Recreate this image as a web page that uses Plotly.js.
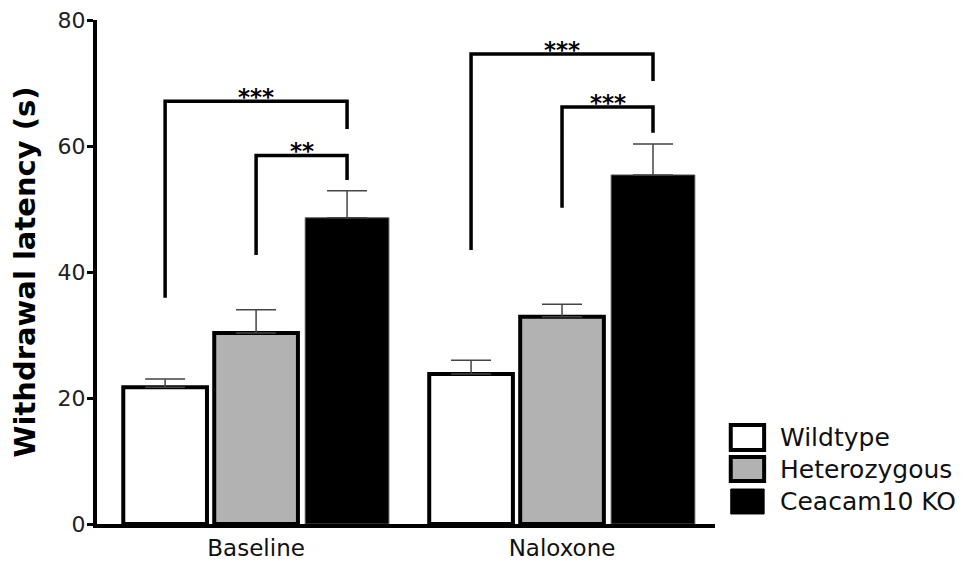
<!DOCTYPE html>
<html>
<head>
<meta charset="utf-8">
<script src="https://cdn.plot.ly/plotly-3.0.1.min.js"></script>
<style>html,body{margin:0;padding:0;background:#fff;}#chart{width:963px;height:562px;}</style>
</head>
<body>
<div id="chart"></div>
<script>
// ---- data ----
const categories = ["Baseline", "Naloxone"];
const seriesNames = ["Wildtype", "Heterozygous", "Ceacam10 KO"];
const wildtypeMean = [21.7, 23.8];
const wildtypeErr = [1.3, 2.2];
const heteroMean = [30.3, 32.9];
const heteroErr = [3.7, 2.0];
const koMean = [48.6, 55.4];
const koErr = [4.3, 4.9];
const yTicks = [0, 20, 40, 60, 80];

// significance brackets
const bracketCategory = [0, 0, 1, 1];
const bracketFromSeries = [0, 1, 0, 1];
const bracketToSeries = [2, 2, 2, 2];
const bracketTop = [67.1, 58.5, 74.6, 66.2];
const bracketLeftEnd = [35.9, 42.7, 43.5, 50.2];
const bracketRightEnd = [62.7, 54.6, 70.3, 62.1];
const bracketLabel = ["***", "**", "***", "***"];

// ---- styles ----
const FONT = "DejaVu Sans";
const fills = ["#ffffff", "#b2b2b2", "#000000"];
const edges = ["#000000", "#000000", "#555555"];
const edgeW = [4, 4, 1];
const means = [wildtypeMean, heteroMean, koMean];
const errs = [wildtypeErr, heteroErr, koErr];

const bargap = 0.108;
const traces = seriesNames.map((name, i) => ({
  type: "bar",
  name: name,
  x: categories,
  y: means[i],
  marker: {color: fills[i], line: {color: edges[i], width: edgeW[i]}},
  error_y: {type: "data", symmetric: false, array: errs[i], arrayminus: errs[i].map(() => 0),
            color: "#444", thickness: 1.5, width: 20},
  showlegend: false,
  hoverinfo: "skip"
}));

const slot = (1 - bargap) / seriesNames.length;
const seriesCenter = (cat, s) => cat + (s - (seriesNames.length - 1) / 2) * slot;

const shapes = [];
const annotations = [];
bracketTop.forEach((top, k) => {
  const x1 = seriesCenter(bracketCategory[k], bracketFromSeries[k]);
  const x2 = seriesCenter(bracketCategory[k], bracketToSeries[k]);
  shapes.push({type: "path", xref: "x", yref: "y",
    path: `M${x1},${bracketLeftEnd[k]} L${x1},${top} L${x2},${top} L${x2},${bracketRightEnd[k]}`,
    line: {color: "#000", width: 3.5}});
  annotations.push({xref: "x", yref: "y", x: (x1 + x2) / 2, y: top, text: bracketLabel[k],
    showarrow: false, xanchor: "center", yanchor: "bottom", yshift: -11,
    font: {family: FONT, size: 23, color: "#000", weight: "bold"}});
});

// custom legend (paper coordinates)
const legTop = [0.2004, 0.1369, 0.0734];
const legBot = [0.1429, 0.0813, 0.0159];
seriesNames.forEach((name, i) => {
  shapes.push({type: "rect", xref: "paper", yref: "paper", x0: 1.0255, x1: 1.0795,
    y0: legBot[i] + 0.004, y1: legTop[i] - 0.004,
    fillcolor: fills[i], line: {color: "#000", width: i === 2 ? 1 : 4}});
  annotations.push({xref: "paper", yref: "paper", x: 1.102, y: (legTop[i] + legBot[i]) / 2,
    text: name, showarrow: false, xanchor: "left", yanchor: "middle",
    font: {family: FONT, size: 25, color: "#111"}});
});

const layout = {
  width: 963, height: 562,
  margin: {l: 97, r: 248, t: 20, b: 38},
  paper_bgcolor: "#fff", plot_bgcolor: "#fff",
  barmode: "group", bargap: bargap, bargroupgap: 0.08,
  showlegend: false,
  xaxis: {type: "category", range: [-0.52, 1.5], showline: true, linewidth: 4, linecolor: "#000",
          ticks: "", showgrid: false, zeroline: false, fixedrange: true,
          tickfont: {family: FONT, size: 23, color: "#111"}},
  yaxis: {range: [0, 80], tickvals: yTicks, ticktext: yTicks.map(String), showline: true, linewidth: 4,
          linecolor: "#000", ticks: "outside", ticklen: 6, tickwidth: 3, tickcolor: "#000",
          ticklabelstandoff: -3,
          showgrid: false, zeroline: false, fixedrange: true,
          tickfont: {family: FONT, size: 22, color: "#222"},
          title: {text: "Withdrawal latency (s)", standoff: 14,
                  font: {family: FONT, size: 29, color: "#000", weight: "bold"}}},
  shapes: shapes,
  annotations: annotations
};

Plotly.newPlot("chart", traces, layout, {displayModeBar: false, staticPlot: true});
</script>
</body>
</html>
